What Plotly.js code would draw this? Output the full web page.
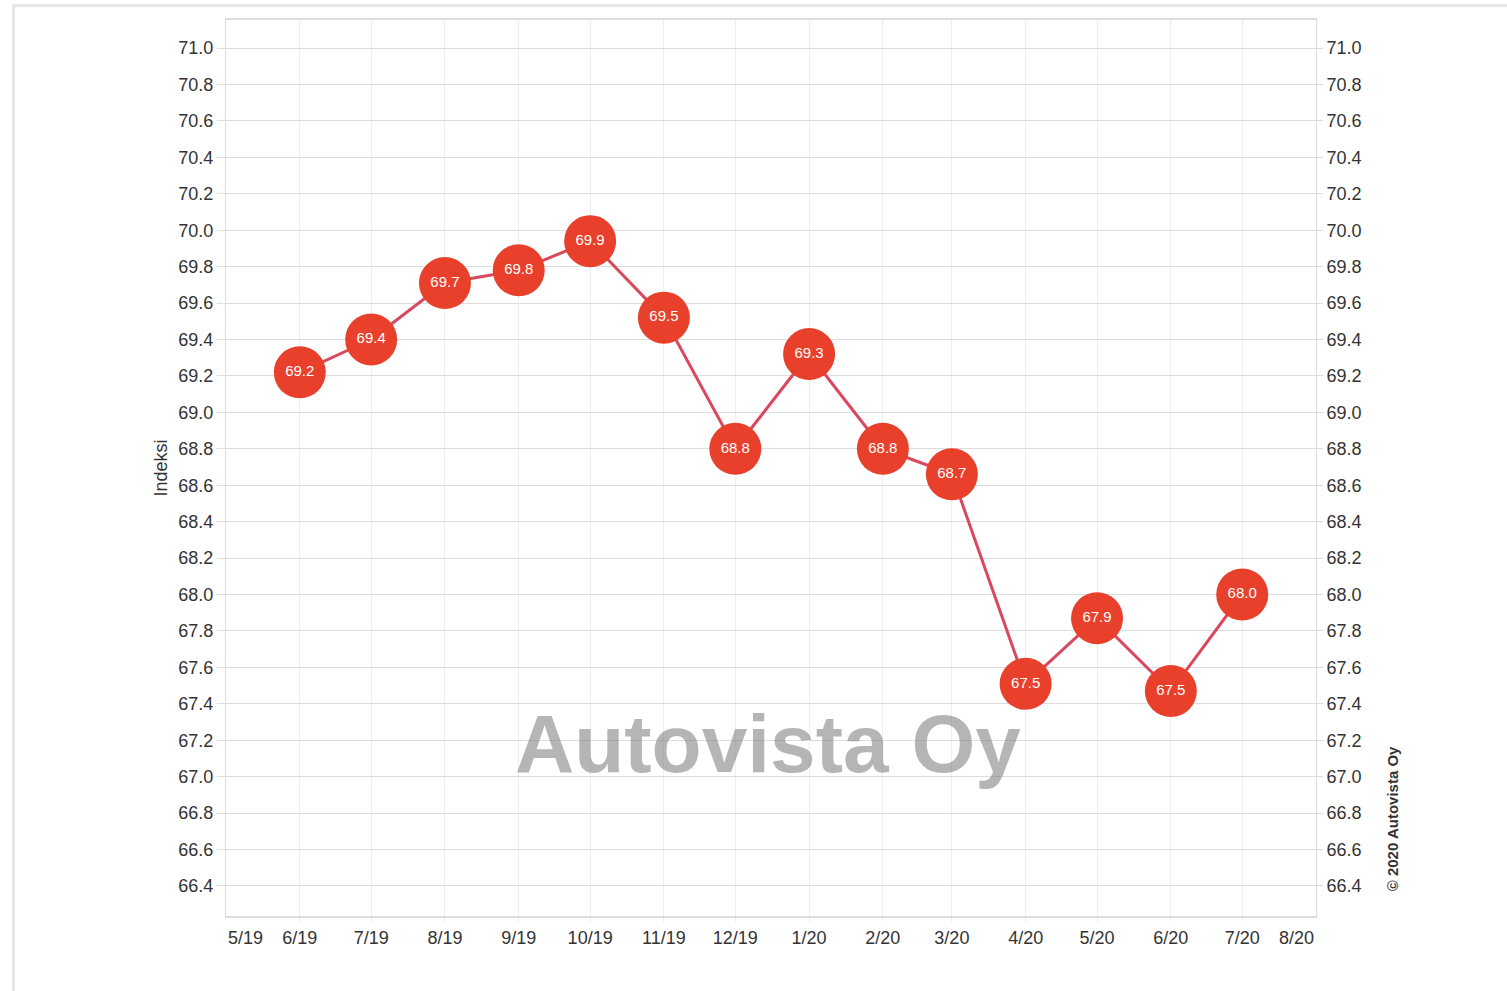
<!DOCTYPE html>
<html>
<head>
<meta charset="utf-8">
<script src="https://cdn.plot.ly/plotly-3.0.1.min.js"></script>
<style>
  html, body { margin: 0; padding: 0; background: #fff; overflow: hidden; }
  #frame { position: absolute; left: 12px; top: 4px; width: 1700px; height: 1200px; border: 3px solid #e6e6e6; box-sizing: border-box; }
  #chart { position: absolute; left: 0; top: 0; width: 1507px; height: 991px; }
</style>
</head>
<body>
<div id="frame"></div>
<div id="chart"></div>
<script>
// Data
const months = ['2019-06-01','2019-07-01','2019-08-01','2019-09-01','2019-10-01','2019-11-01','2019-12-01',
                '2020-01-01','2020-02-01','2020-03-01','2020-04-01','2020-05-01','2020-06-01','2020-07-01'];
const indexValues = [69.22, 69.40, 69.71, 69.78, 69.94, 69.52, 68.80, 69.32, 68.80, 68.66, 67.51, 67.87, 67.47, 68.00];
const tickDates = ['2019-05-01','2019-06-01','2019-07-01','2019-08-01','2019-09-01','2019-10-01','2019-11-01','2019-12-01',
                   '2020-01-01','2020-02-01','2020-03-01','2020-04-01','2020-05-01','2020-06-01','2020-07-01','2020-08-01'];
const tickLabels = ['5/19','6/19','7/19','8/19','9/19','10/19','11/19','12/19','1/20','2/20','3/20','4/20','5/20','6/20','7/20','8/20'];
const yTitle = 'Indeksi';
const watermark = 'Autovista Oy';
const copyright = '© 2020 Autovista Oy';

const FONT = '"Liberation Sans", Arial, sans-serif';
const innerTicks = tickDates.slice(1, -1);
const innerLabels = tickLabels.slice(1, -1);

const traces = [
  {
    x: months, y: indexValues, type: 'scatter', mode: 'lines+markers+text',
    line: { color: '#d9485e', width: 3 },
    marker: { size: 52, color: '#e8402b', line: { width: 0 } },
    text: indexValues.map(v => v.toFixed(1)),
    textposition: 'middle center',
    textfont: { color: '#ffffff', size: 15, family: FONT },
    hoverinfo: 'x+y', cliponaxis: false, showlegend: false
  },
  {
    x: months, y: indexValues, type: 'scatter', mode: 'lines', yaxis: 'y2',
    line: { width: 0 }, opacity: 0, hoverinfo: 'skip', showlegend: false
  }
];

const layout = {
  width: 1507, height: 991,
  margin: { l: 226, r: 191, t: 20, b: 75 },
  paper_bgcolor: 'rgba(0,0,0,0)', plot_bgcolor: '#ffffff',
  font: { family: FONT, size: 18, color: '#333333' },
  xaxis: {
    type: 'date', range: ['2019-05-01', '2020-08-01'],
    tickmode: 'array', tickvals: innerTicks, ticktext: innerLabels,
    showgrid: true, gridcolor: '#eeeeee', gridwidth: 1,
    ticks: 'outside', ticklen: 4, tickcolor: '#eeeeee',
    showline: true, linecolor: '#dddddd', linewidth: 2, mirror: true,
    tickfont: { size: 18, color: '#333333' }, zeroline: false, fixedrange: true
  },
  yaxis: {
    range: [66.235, 71.154], dtick: 0.2, tick0: 66.4, tickformat: '.1f',
    showgrid: true, gridcolor: '#dddddd', gridwidth: 1,
    ticks: 'outside', ticklen: 8, tickcolor: '#dddddd',
    showline: true, linecolor: '#dddddd', linewidth: 1, mirror: true,
    tickfont: { size: 18, color: '#333333' }, zeroline: false,
    title: { text: yTitle, font: { size: 18, color: '#333333' }, standoff: 6 },
    fixedrange: true
  },
  yaxis2: {
    overlaying: 'y', side: 'right', matches: 'y',
    range: [66.235, 71.154], dtick: 0.2, tick0: 66.4, tickformat: '.1f',
    showgrid: false, ticks: 'outside', ticklen: 6, tickcolor: '#dddddd',
    tickfont: { size: 18, color: '#333333' }, zeroline: false, showline: false,
    fixedrange: true
  },
  annotations: [
    { xref: 'paper', yref: 'paper', x: 0, y: 0, yshift: -10, xanchor: 'left', yanchor: 'top',
      text: tickLabels[0], showarrow: false, font: { size: 18, color: '#333333' } },
    { xref: 'paper', yref: 'paper', x: 1, y: 0, yshift: -10, xanchor: 'right', yanchor: 'top',
      text: tickLabels[tickLabels.length - 1], showarrow: false, font: { size: 18, color: '#333333' } },
    { xref: 'paper', yref: 'paper', x: 0.497, y: 0.193, xanchor: 'center', yanchor: 'middle',
      text: '<b>' + watermark + '</b>', showarrow: false,
      font: { size: 82, color: 'rgba(120,120,120,0.55)', family: FONT } },
    { xref: 'paper', yref: 'paper', x: 1.0697, y: 0.109, xanchor: 'center', yanchor: 'middle',
      text: '<b>' + copyright + '</b>', textangle: -90, showarrow: false,
      font: { size: 15, color: '#333333', family: FONT } }
  ]
};

Plotly.newPlot('chart', traces, layout, { displayModeBar: false });
</script>
</body>
</html>
